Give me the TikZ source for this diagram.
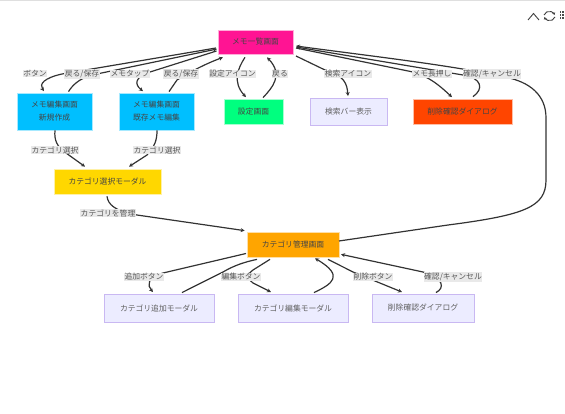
\documentclass[tikz,border=0pt]{standalone}
\usepackage{fontspec}
\setmainfont{Noto Sans CJK JP}
\usetikzlibrary{arrows.meta}
\definecolor{txt}{HTML}{444444}
\tikzset{
  x=1pt,y=-1pt,
  box/.style={draw=#1!35!white,line width=.7pt,fill=#1,inner sep=0pt,text=txt,font=\fontsize{7.8}{13}\selectfont,align=center},
  plain/.style={draw=purpleline,line width=.9pt,fill=purplefill,inner sep=0pt,text=txt!85!white,font=\fontsize{7.8}{13}\selectfont,align=center},
  lbl/.style={fill=gray!17,inner sep=.6pt,text=txt!90!white,font=\fontsize{7.8}{10}\selectfont},
  edgeline/.style={draw=black!80,line width=1.2pt},
  edge/.style={edgeline,-{Stealth[length=4pt,width=4pt]}},
}
\definecolor{purpleline}{HTML}{C9B8F2}
\definecolor{purplefill}{HTML}{ECECFF}
\definecolor{cpink}{HTML}{FF1493}
\definecolor{cblue}{HTML}{00BFFF}
\definecolor{cgreen}{HTML}{00FF7F}
\definecolor{cred}{HTML}{FF4500}
\definecolor{cgold}{HTML}{FFD700}
\definecolor{corange}{HTML}{FFA500}
\newcommand{\bx}[7]{\node[#1,minimum width=#5pt-#4pt,minimum height=#7pt-#6pt] (#2) at ({(#4+#5)/2},{(#6+#7)/2}) {#3};}
\newcommand{\lb}[3]{\node[lbl] (#1) at (#2) {#3};}
\begin{document}
\begin{tikzpicture}
\useasboundingbox (0,0) rectangle (565,414);
\fill[gray!25] (0,0) rectangle (565,1.2);
% nodes
\bx{box=cpink}{top}{メモ一覧画面}{218}{293}{30}{54}
\bx{box=cblue}{newm}{メモ編集画面\\新規作成}{17}{92}{93}{130}
\bx{box=cblue}{exm}{メモ編集画面\\既存メモ編集}{119}{194}{93}{130}
\bx{box=cgreen}{sett}{設定画面}{224}{283}{99}{124}
\bx{plain}{srch}{検索バー表示}{310}{387}{98}{125}
\bx{box=cred}{dela}{削除確認ダイアログ}{413}{512}{99}{124}
\bx{box=cgold}{csel}{カテゴリ選択モーダル}{54}{161}{169}{194}
\bx{box=corange}{cmgr}{カテゴリ管理画面}{247}{339}{232}{257}
\bx{plain}{cadd}{カテゴリ追加モーダル}{104}{214}{294}{322}
\bx{plain}{cedt}{カテゴリ編集モーダル}{238}{348}{294}{322}
\bx{plain}{cdel}{削除確認ダイアログ}{372}{474}{294}{322}
% connectors (shift is relative to the node centre: top 255.5,42)
\draw[edge] ([shift={(-39.5,6)}]top.center) -- (62,74) .. controls (44,78) and (39,84) .. ([shift={(-10.5,-1.5)}]newm.north);
\draw[edge] ([shift={(14,-1)}]newm.north) .. controls (72,86) and (78,79) .. (92,75) -- ([shift={(-38.5,7)}]top.center);
\draw[edge] ([shift={(-39,9)}]top.center) -- (150,72) .. controls (135,77) and (134,84) .. ([shift={(-13.5,-1.5)}]exm.north);
\draw[edge] ([shift={(12.5,-1)}]exm.north) -- (177,80) .. controls (190,72) and (205,64) .. ([shift={(-32.5,3)}]top.south);
\draw[edge] ([shift={(-10.5,3)}]top.south) .. controls (238,68) and (232,82) .. ([shift={(-7.5,-1.5)}]sett.north);
\draw[edge] ([shift={(9.5,-1)}]sett.north) .. controls (272,88) and (284,75) .. ([shift={(11.5,3)}]top.south);
\draw[edge] ([shift={(40.5,14)}]top.center) -- (325,70) .. controls (345,76) and (347,84) .. ([shift={(-.5,-1.5)}]srch.north);
\draw[edge] ([shift={(40.5,6)}]top.center) -- (413,72) .. controls (430,77) and (440,86) .. ([shift={(-10.5,-1.5)}]dela.north);
\draw[edge] ([shift={(10.5,-2)}]dela.north) .. controls (484,89) and (482,78) .. (463,75) -- ([shift={(40.5,5)}]top.center);
\draw[edge] ([shift={(46,-3.5)}]cmgr.center) -- (448,225) .. controls (525,215) and (546,207) .. (546,180) -- (546,118) .. controls (546,95) and (530,82) .. (505,77) .. controls (450,65) and (370,56) .. ([shift={(40.5,4)}]top.center);
\draw[edge] ([shift={(.5,0)}]newm.south) .. controls (54,140) and (57,147) .. (66,153) -- ([shift={(-22.5,-2)}]csel.north);
\draw[edge] ([shift={(.5,0)}]exm.south) .. controls (157,140) and (155,146) .. (147,155) -- ([shift={(21.5,-2)}]csel.north);
\draw[edge] ([shift={(-.5,2)}]csel.south) .. controls (108,204) and (114,211) .. (137,215) -- ([shift={(-2,-1)}]cmgr.north west);
\draw[edge] ([shift={(-47,9)}]cmgr.center) -- (163,273) .. controls (147,278) and (147,285) .. ([shift={(-6,-1.5)}]cadd.north);
\draw[edgeline] ([shift={(23,-1)}]cadd.north) -- (223,272) .. controls (235,265) and (245,262) .. ([shift={(-36,2)}]cmgr.south);
\draw[edge] ([shift={(-23,2)}]cmgr.south) -- (253,270) .. controls (245,276) and (248,279) .. (253,283) -- ([shift={(-22,-1.5)}]cedt.north);
\draw[edge] ([shift={(21,-1)}]cedt.north) .. controls (332,284) and (345,276) .. ([shift={(22,1)}]cmgr.south);
\draw[edge] ([shift={(35,2)}]cmgr.south) -- (353,272) -- ([shift={(-21,-1.5)}]cdel.north);
\draw[edge] ([shift={(13,-1)}]cdel.north) .. controls (445,288) and (444,278) .. (423,272) -- ([shift={(48,-3)}]cmgr.south);
% labels
\lb{l1}{35,73.5}{ボタン}
\lb{l2}{82,74}{戻る/保存}
\lb{l3}{130,74}{メモタップ}
\lb{l4}{181,74}{戻る/保存}
\lb{l5}{232.5,74}{設定アイコン}
\lb{l6}{280,74}{戻る}
\lb{l7}{348,74}{検索アイコン}
\lb{l8}{432,74}{メモ長押し}
\lb{l9}{492,74}{確認/キャンセル}
\lb{l10}{55,150}{カテゴリ選択}
\lb{l11}{157,150}{カテゴリ選択}
\lb{l12}{108,213}{カテゴリを管理}
\lb{l13}{144,277}{追加ボタン}
\lb{l14}{241,277}{編集ボタン}
\lb{l15}{373,277}{削除ボタン}
\lb{l16}{453,277}{確認/キャンセル}
% toolbar icons
\draw[black!75,line width=.9pt] (528,20) -- (533.5,13.5) -- (539,20);
\draw[black!75,line width=.9pt,-{Stealth[length=2.5pt,width=3pt]}] (544,15) arc[start angle=200,end angle=340,radius=5.6];
\draw[black!75,line width=.9pt,-{Stealth[length=2.5pt,width=3pt]}] (555,17) arc[start angle=20,end angle=160,radius=5.6];
\foreach \i in {0,1,2}{\foreach \j in {0,1,2}{\fill[black!70] (560+2.3*\i,11.5+3*\j) rectangle ++(1.3,1.5);}}
\end{tikzpicture}
\end{document}
